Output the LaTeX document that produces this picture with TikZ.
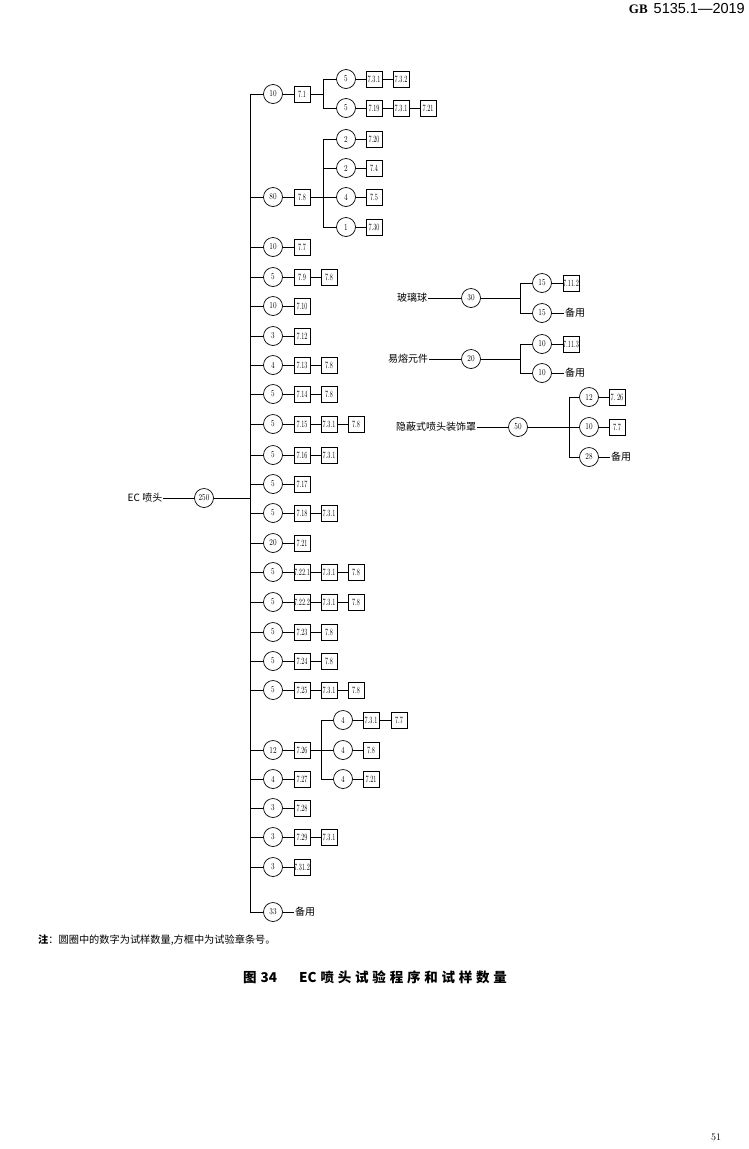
\documentclass[tikz,border=0pt]{standalone}
\usepackage{fontspec}
\newfontfamily\cjk{Noto Sans CJK SC}
\newfontfamily\headfont{Liberation Sans}
\newfontfamily\headserif{Liberation Serif}
\newfontfamily\boxfont{lmroman10-regular}[Extension=.otf, FakeStretch=0.65]
\newfontfamily\ringfont{lmroman10-regular}[Extension=.otf, FakeStretch=0.8]
\usetikzlibrary{calc}

\begin{document}
\begin{tikzpicture}[x=1pt, y=-1pt,
  num/.style={circle, draw, line width=0.7pt, minimum size=19pt, inner sep=0pt, font=\ringfont\fontsize{9}{10}\selectfont},
  sec/.style={draw, line width=0.7pt, minimum size=16pt, inner sep=0pt, font=\boxfont\fontsize{9.5}{10}\selectfont},
  lbl/.style={font=\cjk\fontsize{10}{12}\selectfont, inner sep=1pt},
  link/.style={line width=0.6pt}]
  \useasboundingbox (0,0) rectangle (748,1149);
  \node[anchor=north east, inner sep=0pt] (head) at (745,3) {\headserif\bfseries\fontsize{13}{15}\selectfont GB\hspace{6pt}\headfont\mdseries\fontsize{14.5}{16}\selectfont 5135.1—2019};
  % main column
  \coordinate (spine) at (250,0);
  \node[lbl] (ec) at (145,498) {EC 喷头};
  \node[num] (c0) at (204,498) {250};
  \node[num] (c1) at (273,94) {10};
  \node[sec] (s1a) at (302,94) {7.1};
  \node[num] (c2) at (273,197) {80};
  \node[sec] (s2a) at (302,197) {7.8};
  \node[num] (c3) at (273,247) {10};
  \node[sec] (s3a) at (302,247) {7.7};
  \node[num] (c4) at (273,277) {5};
  \node[sec] (s4a) at (302,277) {7.9};
  \node[sec] (s4b) at (329,277) {7.8};
  \node[num] (c5) at (273,306) {10};
  \node[sec] (s5a) at (302,306) {7.10};
  \node[num] (c6) at (273,336) {3};
  \node[sec] (s6a) at (302,336) {7.12};
  \node[num] (c7) at (273,365) {4};
  \node[sec] (s7a) at (302,365) {7.13};
  \node[sec] (s7b) at (329,365) {7.8};
  \node[num] (c8) at (273,394) {5};
  \node[sec] (s8a) at (302,394) {7.14};
  \node[sec] (s8b) at (329,394) {7.8};
  \node[num] (c9) at (273,424) {5};
  \node[sec] (s9a) at (302,424) {7.15};
  \node[sec] (s9b) at (329,424) {7.3.1};
  \node[sec] (s9c) at (356,424) {7.8};
  \node[num] (c10) at (273,455) {5};
  \node[sec] (s10a) at (302,455) {7.16};
  \node[sec] (s10b) at (329,455) {7.3.1};
  \node[num] (c11) at (273,484) {5};
  \node[sec] (s11a) at (302,484) {7.17};
  \node[num] (c12) at (273,513) {5};
  \node[sec] (s12a) at (302,513) {7.18};
  \node[sec] (s12b) at (329,513) {7.3.1};
  \node[num] (c13) at (273,543) {20};
  \node[sec] (s13a) at (302,543) {7.21};
  \node[num] (c14) at (273,572) {5};
  \node[sec] (s14a) at (302,572) {7.22.1};
  \node[sec] (s14b) at (329,572) {7.3.1};
  \node[sec] (s14c) at (356,572) {7.8};
  \node[num] (c15) at (273,602) {5};
  \node[sec] (s15a) at (302,602) {7.22.2};
  \node[sec] (s15b) at (329,602) {7.3.1};
  \node[sec] (s15c) at (356,602) {7.8};
  \node[num] (c16) at (273,632) {5};
  \node[sec] (s16a) at (302,632) {7.23};
  \node[sec] (s16b) at (329,632) {7.8};
  \node[num] (c17) at (273,661) {5};
  \node[sec] (s17a) at (302,661) {7.24};
  \node[sec] (s17b) at (329,661) {7.8};
  \node[num] (c18) at (273,690) {5};
  \node[sec] (s18a) at (302,690) {7.25};
  \node[sec] (s18b) at (329,690) {7.3.1};
  \node[sec] (s18c) at (356,690) {7.8};
  \node[num] (c19) at (273,750) {12};
  \node[sec] (s19a) at (302,750) {7.26};
  \node[num] (c20) at (273,779) {4};
  \node[sec] (s20a) at (302,779) {7.27};
  \node[num] (c21) at (273,808) {3};
  \node[sec] (s21a) at (302,808) {7.28};
  \node[num] (c22) at (273,837) {3};
  \node[sec] (s22a) at (302,837) {7.29};
  \node[sec] (s22b) at (329,837) {7.3.1};
  \node[num] (c23) at (273,867) {3};
  \node[sec] (s23a) at (302,867) {7.31.2};
  \node[num] (c24) at (273,912) {33};
  \node[lbl] (s24a) at (305,912) {备用};
  \draw[link] (ec) -- (c0) -- (c0 -| spine);
  \draw[link] (c1 -| spine) -- (c24 -| spine);
  \draw[link] (c1) -- (c1 -| spine);
  \draw[link] (c2) -- (c2 -| spine);
  \draw[link] (c3) -- (c3 -| spine);
  \draw[link] (c4) -- (c4 -| spine);
  \draw[link] (c5) -- (c5 -| spine);
  \draw[link] (c6) -- (c6 -| spine);
  \draw[link] (c7) -- (c7 -| spine);
  \draw[link] (c8) -- (c8 -| spine);
  \draw[link] (c9) -- (c9 -| spine);
  \draw[link] (c10) -- (c10 -| spine);
  \draw[link] (c11) -- (c11 -| spine);
  \draw[link] (c12) -- (c12 -| spine);
  \draw[link] (c13) -- (c13 -| spine);
  \draw[link] (c14) -- (c14 -| spine);
  \draw[link] (c15) -- (c15 -| spine);
  \draw[link] (c16) -- (c16 -| spine);
  \draw[link] (c17) -- (c17 -| spine);
  \draw[link] (c18) -- (c18 -| spine);
  \draw[link] (c19) -- (c19 -| spine);
  \draw[link] (c20) -- (c20 -| spine);
  \draw[link] (c21) -- (c21 -| spine);
  \draw[link] (c22) -- (c22 -| spine);
  \draw[link] (c23) -- (c23 -| spine);
  \draw[link] (c24) -- (c24 -| spine);
  \draw[link] (c1) -- (s1a);
  \draw[link] (c2) -- (s2a);
  \draw[link] (c3) -- (s3a);
  \draw[link] (c4) -- (s4a) -- (s4b);
  \draw[link] (c5) -- (s5a);
  \draw[link] (c6) -- (s6a);
  \draw[link] (c7) -- (s7a) -- (s7b);
  \draw[link] (c8) -- (s8a) -- (s8b);
  \draw[link] (c9) -- (s9a) -- (s9b) -- (s9c);
  \draw[link] (c10) -- (s10a) -- (s10b);
  \draw[link] (c11) -- (s11a);
  \draw[link] (c12) -- (s12a) -- (s12b);
  \draw[link] (c13) -- (s13a);
  \draw[link] (c14) -- (s14a) -- (s14b) -- (s14c);
  \draw[link] (c15) -- (s15a) -- (s15b) -- (s15c);
  \draw[link] (c16) -- (s16a) -- (s16b);
  \draw[link] (c17) -- (s17a) -- (s17b);
  \draw[link] (c18) -- (s18a) -- (s18b) -- (s18c);
  \draw[link] (c19) -- (s19a);
  \draw[link] (c20) -- (s20a);
  \draw[link] (c21) -- (s21a);
  \draw[link] (c22) -- (s22a) -- (s22b);
  \draw[link] (c23) -- (s23a);
  \draw[link] (c24) -- (s24a);
  % branch after 7.1
  \coordinate (j1) at (323,94);
  \node[num] (c1u) at (346,79) {5};
  \node[sec] (s1ua) at (374,79) {7.3.1};
  \node[sec] (s1ub) at (401,79) {7.3.2};
  \node[num] (c1d) at (346,108) {5};
  \node[sec] (s1da) at (374,108) {7.19};
  \node[sec] (s1db) at (401,108) {7.3.1};
  \node[sec] (s1dc) at (428,108) {7.21};
  \draw[link] (s1a) -- (j1);
  \draw[link] (j1) |- (c1u);
  \draw[link] (j1) |- (c1d);
  \draw[link] (c1u) -- (s1ua) -- (s1ub);
  \draw[link] (c1d) -- (s1da) -- (s1db) -- (s1dc);
  % branch after 7.8
  \coordinate (j2) at (323,197);
  \node[num] (c2a) at (346,139) {2};
  \node[sec] (s2aa) at (374,139) {7.20};
  \node[num] (c2b) at (346,168) {2};
  \node[sec] (s2ba) at (374,168) {7.4};
  \node[num] (c2c) at (346,197) {4};
  \node[sec] (s2ca) at (374,197) {7.5};
  \node[num] (c2d) at (346,227) {1};
  \node[sec] (s2da) at (374,227) {7.30};
  \draw[link] (s2a) -- (j2);
  \draw[link] (j2) |- (c2a);
  \draw[link] (j2) |- (c2b);
  \draw[link] (j2) -- (c2c);
  \draw[link] (j2) |- (c2d);
  \draw[link] (c2a) -- (s2aa);
  \draw[link] (c2b) -- (s2ba);
  \draw[link] (c2c) -- (s2ca);
  \draw[link] (c2d) -- (s2da);
  % branch after 7.26
  \coordinate (j19) at (321,750);
  \node[num] (c19a) at (343,720) {4};
  \node[sec] (s19aa) at (371,720) {7.3.1};
  \node[sec] (s19ab) at (399,720) {7.7};
  \node[num] (c19b) at (343,750) {4};
  \node[sec] (s19ba) at (371,750) {7.8};
  \node[num] (c19c) at (343,779) {4};
  \node[sec] (s19ca) at (371,779) {7.21};
  \draw[link] (s19a) -- (j19);
  \draw[link] (j19) |- (c19a);
  \draw[link] (j19) -- (c19b);
  \draw[link] (j19) |- (c19c);
  \draw[link] (c19a) -- (s19aa) -- (s19ab);
  \draw[link] (c19b) -- (s19ba);
  \draw[link] (c19c) -- (s19ca);
  % glass bulb
  \node[lbl] (glass) at (412,298) {玻璃球};
  \node[num] (g0) at (471,298) {30};
  \coordinate (jg) at (520,298);
  \node[num] (g1) at (542,283) {15};
  \node[sec] (g1a) at (571,283) {7.11.2};
  \node[num] (g2) at (542,313) {15};
  \node[lbl] (g2a) at (575,313) {备用};
  \draw[link] (glass) -- (g0) -- (jg);
  \draw[link] (jg) |- (g1);
  \draw[link] (jg) |- (g2);
  \draw[link] (g1) -- (g1a);
  \draw[link] (g2) -- (g2a);
  % fusible element
  \node[lbl] (fuse) at (408,359) {易熔元件};
  \node[num] (f0) at (471,359) {20};
  \coordinate (jf) at (520,359);
  \node[num] (f1) at (542,344) {10};
  \node[sec] (f1a) at (571,344) {7.11.3};
  \node[num] (f2) at (542,373) {10};
  \node[lbl] (f2a) at (575,373) {备用};
  \draw[link] (fuse) -- (f0) -- (jf);
  \draw[link] (jf) |- (f1);
  \draw[link] (jf) |- (f2);
  \draw[link] (f1) -- (f1a);
  \draw[link] (f2) -- (f2a);
  % cover plate
  \node[lbl] (cover) at (436,427) {隐蔽式喷头装饰罩};
  \node[num] (h0) at (518,427) {50};
  \coordinate (jh) at (569,427);
  \node[num] (h1) at (589,397) {12};
  \node[sec] (h1a) at (617,397) {7.\,26};
  \node[num] (h2) at (589,427) {10};
  \node[sec] (h2a) at (617,427) {7.7};
  \node[num] (h3) at (589,457) {28};
  \node[lbl] (h3a) at (621,457) {备用};
  \draw[link] (cover) -- (h0) -- (h2);
  \draw[link] (jh) |- (h1);
  \draw[link] (jh) |- (h3);
  \draw[link] (h1) -- (h1a);
  \draw[link] (h2) -- (h2a);
  \draw[link] (h3) -- (h3a);
  % note and caption
  \node[anchor=west, inner sep=0pt, font=\cjk\fontsize{10.2}{12}\selectfont] (note) at (38,940) {\textbf{注}：圆圈中的数字为试样数量,方框中为试验章条号。};
  \node[anchor=west, inner sep=0pt, font=\cjk\bfseries\fontsize{13.5}{15}\selectfont] (title) at (243,977) {图\hspace{4pt}34\hspace{22pt}EC\hspace{4pt}{\addfontfeatures{LetterSpace=28}喷头试验程序和试样数量}};
  \node[font=\fontsize{10}{12}\selectfont] (page) at (716,1137) {51};
\end{tikzpicture}
\end{document}
